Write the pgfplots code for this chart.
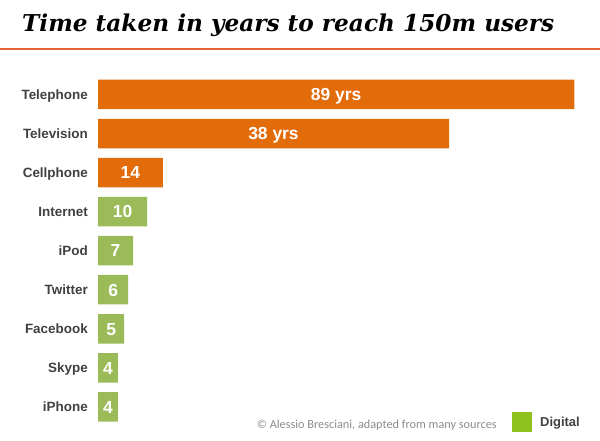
\documentclass[border=0pt]{standalone}
\usepackage{pgfplots}
\pgfplotsset{compat=1.18}
\usepackage{pgfplotstable}
\usepackage{fontspec}
\setmainfont{Liberation Sans}
\newfontfamily\titlefont{DejaVu Serif}
\newfontfamily\notefont{Carlito}
\definecolor{barorange}{HTML}{E36C0A}
\definecolor{bargreen}{HTML}{9BBB59}
\definecolor{rulecol}{HTML}{E8613A}
\definecolor{legendgreen}{HTML}{8DC21F}
\definecolor{labelgray}{HTML}{404040}
\definecolor{notegray}{HTML}{8C8C8C}

% len = drawn bar length (chart is not to scale), half = label position
\pgfplotstableread{
idx len half label
0 96.2 48.1 {89 yrs}
1 70.9 35.45 {38 yrs}
2 13.1 6.55 14
}\analog
\pgfplotstableread{
idx len half label
3 9.9 4.95 10
4 7.1 3.55 7
5 6.1 3.05 6
6 5.3 2.65 5
7 4.0 2.0 4
8 4.0 2.0 4
}\digital

\begin{document}
\begin{tikzpicture}
\path[use as bounding box] (0,0) rectangle (600bp,441bp);
\node[anchor=base west, inner sep=0] at (22bp,409bp)
  {\titlefont\bfseries\itshape\fontsize{23.3}{23.3}\selectfont Time taken in years to reach 150m users};
\draw[rulecol, line width=2.5bp] (0,392bp) -- (600bp,392bp);
\begin{axis}[
  at={(98bp,14.6bp)}, anchor=south west,
  scale only axis, width=502bp, height=351.45bp,
  xmin=0, xmax=101.4, ymin=-0.5, ymax=8.5, y dir=reverse,
  hide x axis, axis y line=left, y axis line style={draw=none},
  major tick length=0pt,
  ytick={0,...,8},
  yticklabels={Telephone,Television,Cellphone,Internet,iPod,Twitter,Facebook,Skype,iPhone},
  yticklabel style={font=\bfseries\fontsize{13.5}{13.5}\selectfont, text=labelgray, anchor=east,
    inner sep=0pt, text height=9.6bp, text depth=0bp, xshift=-10bp},
  clip=false,
]
\addplot[xbar, bar width=29.5bp, bar shift=0pt, fill=barorange, draw=none] table[x=len, y=idx] {\analog};
\addplot[xbar, bar width=29.5bp, bar shift=0pt, fill=bargreen, draw=none] table[x=len, y=idx] {\digital};
\addplot[draw=none, mark=none, nodes near coords, point meta=explicit symbolic,
  every node near coord/.append style={anchor=center, inner sep=0pt, text height=12.6bp, text depth=0bp,
    text=white, font=\bfseries\fontsize{17.5}{17.5}\selectfont}]
  table[x=half, y=idx, meta=label] {\analog};
\addplot[draw=none, mark=none, nodes near coords, point meta=explicit symbolic,
  every node near coord/.append style={anchor=center, inner sep=0pt, text height=12.6bp, text depth=0bp,
    text=white, font=\bfseries\fontsize{17.5}{17.5}\selectfont}]
  table[x=half, y=idx, meta=label] {\digital};
\end{axis}
\node[anchor=east, text=notegray, inner sep=0] at (497bp,16bp)
  {\notefont\fontsize{12.3}{12.3}\selectfont © Alessio Bresciani, adapted from many sources};
\fill[legendgreen] (512bp,9bp) rectangle (532bp,29bp);
\node[anchor=west, inner sep=0, text=labelgray, text height=9.6bp, text depth=0bp] at (540bp,19bp)
  {\bfseries\fontsize{13}{13}\selectfont Digital};
\end{tikzpicture}
\end{document}
